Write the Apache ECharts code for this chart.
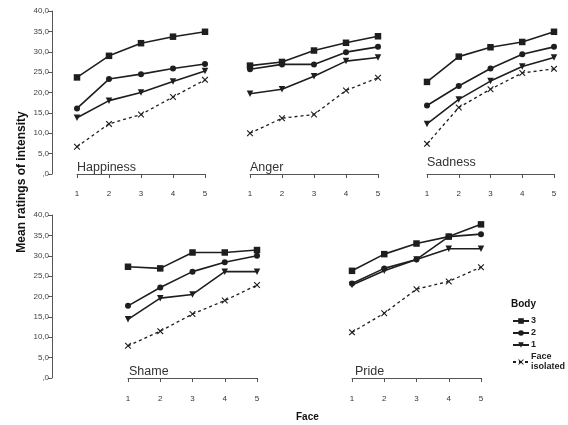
<!DOCTYPE html>
<html>
<head>
<meta charset="utf-8">
<script src="https://cdn.jsdelivr.net/npm/echarts@6/dist/echarts.min.js"></script>
<style>
  html, body { margin: 0; padding: 0; background: #fff; }
  #chart { width: 568px; height: 425px; }
</style>
</head>
<body>
<div id="chart"></div>
<script>
// Face intensity levels (x axis of every panel)
const faceLevels = [1, 2, 3, 4, 5];
const emotions = ['Happiness', 'Anger', 'Sadness', 'Shame', 'Pride'];
const seriesNames = ['3', '2', '1', 'Face isolated'];

// Mean ratings of intensity, one row per emotion (same order as `emotions`)
const body3 = [
  [23.7, 29.0, 32.1, 33.7, 34.9],
  [26.6, 27.5, 30.3, 32.2, 33.8],
  [22.6, 28.8, 31.1, 32.4, 34.9],
  [27.3, 26.9, 30.8, 30.8, 31.4],
  [26.3, 30.4, 33.0, 34.7, 37.7]
];
const body2 = [
  [16.1, 23.3, 24.5, 25.9, 27.0],
  [25.7, 26.9, 26.9, 29.9, 31.2],
  [16.8, 21.6, 25.9, 29.4, 31.2],
  [17.7, 22.2, 26.1, 28.4, 30.0],
  [23.2, 26.9, 29.1, 34.7, 35.3]
];
const body1 = [
  [13.8, 18.0, 20.0, 22.7, 25.3],
  [19.7, 20.8, 24.0, 27.7, 28.6],
  [12.3, 18.3, 22.8, 26.4, 28.6],
  [14.4, 19.6, 20.5, 26.1, 26.1],
  [22.8, 26.3, 29.1, 31.7, 31.7]
];
const faceIsolated = [
  [6.7, 12.3, 14.6, 18.9, 23.1],
  [10.0, 13.7, 14.6, 20.5, 23.6],
  [7.4, 16.3, 20.8, 24.8, 25.8],
  [7.9, 11.5, 15.7, 19.0, 22.8],
  [11.2, 15.9, 21.8, 23.7, 27.2]
];
const yTicks = [0, 5, 10, 15, 20, 25, 30, 35, 40];

// Panel placement: plot area and where the y axis is drawn (null = hidden)
const layout = [
  { left: 77,  top: 11,  width: 128, xOffset: 9,  yAxisAt: 52 },
  { left: 250, top: 11,  width: 128, xOffset: 9,  yAxisAt: null },
  { left: 427, top: 11,  width: 127, xOffset: 9,  yAxisAt: null },
  { left: 128, top: 215, width: 129, xOffset: 10, yAxisAt: 52 },
  { left: 352, top: 215, width: 129, xOffset: 10, yAxisAt: null }
];
const plotHeight = 163;

const ink = '#1e1e1e';
const axisInk = '#555';
const font = 'Liberation Sans, Arial, sans-serif';
const crossPath = 'path://M0,1.2L1.2,0L5,3.8L8.8,0L10,1.2L6.2,5L10,8.8L8.8,10L5,6.2L1.2,10L0,8.8L3.8,5Z';

const seriesStyle = {
  '3': { symbol: 'rect', symbolSize: 6.5, symbolRotate: 0, line: { color: ink, width: 1.6 } },
  '2': { symbol: 'circle', symbolSize: 6, symbolRotate: 0, line: { color: ink, width: 1.6 } },
  '1': { symbol: 'triangle', symbolSize: 6.5, symbolRotate: 180, line: { color: ink, width: 1.6 } },
  'Face isolated': { symbol: crossPath, symbolSize: 6.5, symbolRotate: 0, line: { color: ink, width: 1.3, type: [3, 3] } }
};
const dataByName = { '3': body3, '2': body2, '1': body1, 'Face isolated': faceIsolated };

const grids = [], xAxes = [], yAxes = [], series = [];
layout.forEach((p, i) => {
  grids.push({ left: p.left, top: p.top, width: p.width, height: plotHeight });
  xAxes.push({
    gridIndex: i, type: 'value', min: 1, max: 5, interval: 1,
    offset: p.xOffset,
    axisLine: { lineStyle: { color: axisInk, width: 1 } },
    axisTick: { inside: false, length: 4, lineStyle: { color: axisInk } },
    axisLabel: { fontSize: 8, color: '#333', margin: 7, fontFamily: font },
    splitLine: { show: false }
  });
  const showY = p.yAxisAt !== null;
  yAxes.push({
    gridIndex: i, type: 'value', min: 0, max: 40, interval: 5,
    show: showY,
    offset: showY ? p.left - p.yAxisAt : 0,
    axisLine: { show: true, lineStyle: { color: axisInk, width: 1 } },
    axisTick: { show: true, length: 4, lineStyle: { color: axisInk } },
    axisLabel: {
      fontSize: 8, color: '#444', margin: 3, fontFamily: font,
      formatter: v => yTicks.includes(v) ? (v === 0 ? ',0' : v.toFixed(1).replace('.', ',')) : ''
    },
    splitLine: { show: false }
  });
  seriesNames.forEach(name => {
    const st = seriesStyle[name];
    series.push({
      name, type: 'line', xAxisIndex: i, yAxisIndex: i,
      data: faceLevels.map((f, k) => [f, dataByName[name][i][k]]),
      symbol: st.symbol, symbolSize: st.symbolSize, symbolRotate: st.symbolRotate,
      showSymbol: true,
      lineStyle: st.line,
      itemStyle: { color: ink, borderWidth: 0 },
      emphasis: { disabled: true },
      animation: false
    });
  });
});

// Panel titles and axis captions
const texts = [
  { text: 'Happiness', x: 77,  y: 168 },
  { text: 'Anger',     x: 250, y: 168 },
  { text: 'Sadness',   x: 427, y: 163 },
  { text: 'Shame',     x: 129, y: 372 },
  { text: 'Pride',     x: 355, y: 372 }
].map(t => ({
  type: 'text', left: t.x, top: t.y - 7,
  style: { text: t.text, font: '12.5px ' + font, fill: '#333' }
}));

texts.push({
  type: 'text', x: 22, y: 182, rotation: Math.PI / 2,
  style: { text: 'Mean ratings of intensity', font: 'bold 12px ' + font, fill: '#111',
           align: 'center', verticalAlign: 'middle' }
});
texts.push({
  type: 'text', left: 296, top: 412,
  style: { text: 'Face', font: 'bold 10px ' + font, fill: '#111' }
});
texts.push({
  type: 'text', left: 511, top: 299,
  style: { text: 'Body', font: 'bold 10px ' + font, fill: '#111' }
});

const chart = echarts.init(document.getElementById('chart'), null, { renderer: 'canvas' });
chart.setOption({
  animation: false,
  backgroundColor: '#fff',
  grid: grids,
  xAxis: xAxes,
  yAxis: yAxes,
  series,
  legend: {
    data: seriesNames,
    orient: 'vertical',
    left: 507, top: 311,
    padding: [5, 5, 5, 5],
    itemWidth: 16, itemHeight: 7, itemGap: 2,
    selectedMode: false,
    formatter: n => n === 'Face isolated' ? 'Face\nisolated' : n,
    textStyle: { fontSize: 9, fontWeight: 'bold', color: '#222', fontFamily: font, lineHeight: 10, padding: [0, 0, 0, -3] }
  },
  graphic: texts
});
</script>
</body>
</html>
